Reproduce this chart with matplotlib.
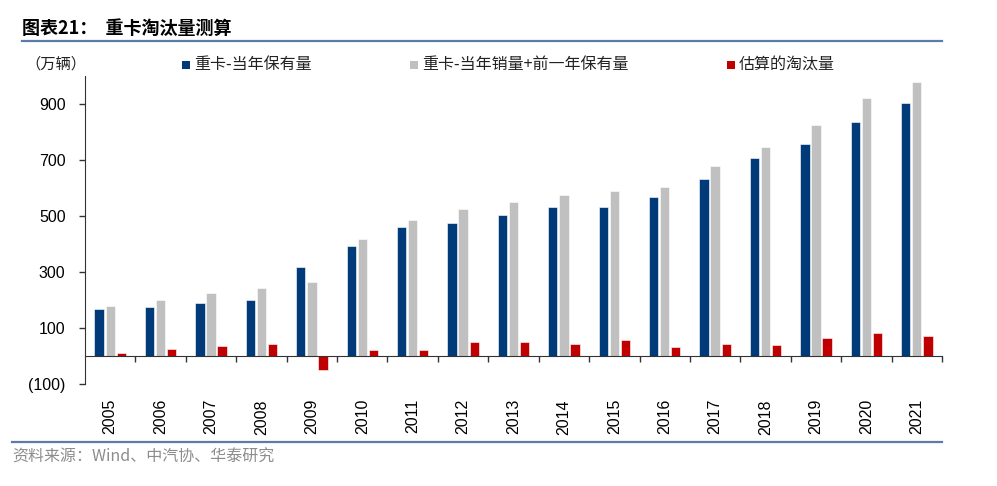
import numpy as np
import matplotlib
matplotlib.use("Agg")
import matplotlib.pyplot as plt
from matplotlib import transforms
from matplotlib.lines import Line2D
from matplotlib.patches import Rectangle

plt.rcParams['font.family'] = ['Liberation Sans', 'Noto Sans CJK SC', 'DejaVu Sans']

years = ['2005', '2006', '2007', '2008', '2009', '2010', '2011', '2012', '2013',
         '2014', '2015', '2016', '2017', '2018', '2019', '2020', '2021']
stock = [167, 174, 187, 201, 316, 394, 460, 473, 502, 533, 530, 569, 632, 707, 758, 837, 905]
sales_plus_prev = [177, 199, 223, 241, 264, 416, 484, 524, 550, 576, 588, 602, 677, 746, 824, 920, 977]
scrapped = [10, 25, 36, 41, -51, 21, 21, 50, 48, 42, 58, 32, 42, 37, 62, 80, 69]
legend_labels = ['重卡-当年保有量', '重卡-当年销量+前一年保有量', '估算的淘汰量']
yticks = [-100, 100, 300, 500, 700, 900]

c_blue = '#003A78'
c_gray = '#C0C0C0'
c_red = '#C00000'
c_line = '#5B7CA6'
cjk = ['Noto Sans CJK SC', 'DejaVu Sans']

W, H = 997, 486
fig = plt.figure(figsize=(W / 100, H / 100), dpi=100)
ax = fig.add_axes([85 / W, 1 - 383.7 / H, (942 - 85) / W, (383.7 - 76) / H])

x = np.arange(len(years))
bw = 0.185
off = 0.22
ax.bar(x - off, stock, bw, color=c_blue, edgecolor='white', linewidth=0.4, zorder=2)
ax.bar(x, sales_plus_prev, bw, color=c_gray, edgecolor='white', linewidth=0.4, zorder=2)
ax.bar(x + off, scrapped, bw, color=c_red, edgecolor='white', linewidth=0.4, zorder=2)

ax.set_xlim(-0.5, len(years) - 0.5)
ax.set_ylim(-100, 1000)
ax.set_yticks(yticks)
ax.set_yticklabels([f'({-v})' if v < 0 else str(v) for v in yticks], fontsize=11.5)
ax.tick_params(axis='y', length=4, width=1, color='#333333', pad=10)

ax.spines['top'].set_visible(False)
ax.spines['right'].set_visible(False)
ax.spines['left'].set_color('#333333')
ax.spines['bottom'].set_position(('data', 0))
ax.spines['bottom'].set_color('#333333')
ax.set_xticks(np.arange(len(years)) + 0.5)
ax.set_xticklabels([])
ax.tick_params(axis='x', length=4, width=1, color='#333333', direction='out')

tr = transforms.blended_transform_factory(ax.transData, fig.transFigure)
for i, yr in enumerate(years):
    ax.text(i, 1 - 399 / H, yr, transform=tr, rotation=90, ha='center', va='top', fontsize=11.5)

# title and decorations
fig.text(22 / W, 1 - 28 / H, '图表21：  重卡淘汰量测算', fontsize=13, fontweight='bold',
         family=cjk, va='center', ha='left')
fig.add_artist(Line2D([22 / W, 942 / W], [1 - 41 / H, 1 - 41 / H], color=c_line, lw=1.6,
                      transform=fig.transFigure))
fig.add_artist(Line2D([12 / W, 942 / W], [1 - 442 / H, 1 - 442 / H], color=c_line, lw=1.6,
                      transform=fig.transFigure))
fig.text(25 / W, 1 - 64 / H, '（万辆）', fontsize=11, family=cjk,
         va='center', ha='left', color='#222222')
fig.text(12 / W, 1 - 457 / H, '资料来源：Wind、中汽协、华泰研究', fontsize=11.5,
         family=cjk, va='center', ha='left', color='#8C8C8C')

# legend
leg_x = [182, 410, 727]
for lx, lab, col in zip(leg_x, legend_labels, [c_blue, c_gray, c_red]):
    fig.add_artist(Rectangle((lx / W, 1 - 69 / H), 8 / W, 8 / H, transform=fig.transFigure,
                             facecolor=col, edgecolor='none'))
    fig.text((lx + 12) / W, 1 - 64.5 / H, lab, fontsize=11.5, family=cjk,
             va='center', ha='left', color='#222222')

fig.savefig('out.png', dpi=100)
